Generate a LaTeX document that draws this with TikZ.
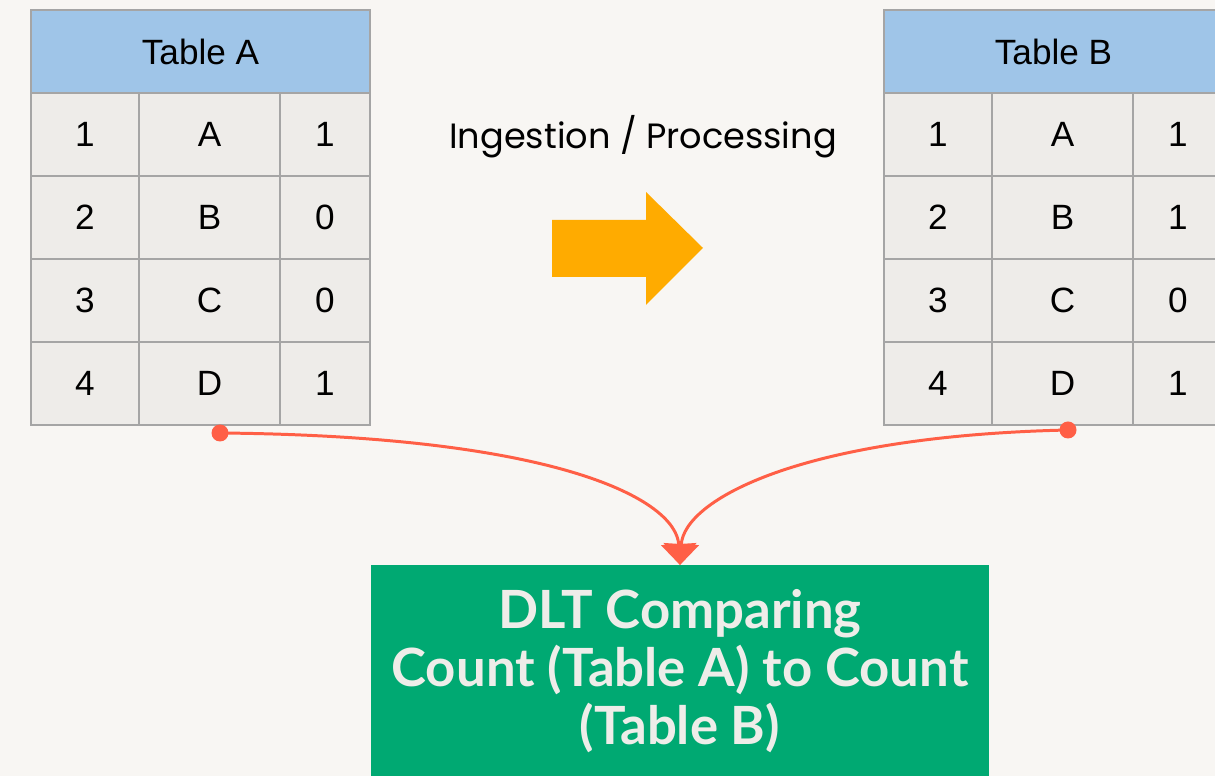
\documentclass[tikz,border=0pt]{standalone}
\usepackage{fontspec}
\setmainfont{Liberation Sans}
\newfontfamily\dmfont{Poppins}
\newfontfamily\boxfont{Lato}
\usetikzlibrary{arrows.meta,positioning}

\definecolor{bgpaper}{HTML}{F8F6F3}
\definecolor{headblue}{HTML}{9FC5E8}
\definecolor{cellgray}{HTML}{EEECE9}
\definecolor{gridgray}{HTML}{A5A5A5}
\definecolor{linkred}{HTML}{FF5F46}
\definecolor{flowamber}{HTML}{FFAB00}
\definecolor{dltgreen}{HTML}{00A972}
\definecolor{offwhite}{HTML}{EEEDE9}

\tikzset{
  cell/.style={draw=gridgray, line width=1.2pt, fill=cellgray, inner sep=0pt,
    outer sep=0pt, minimum height=1.66cm, anchor=north west,
    font=\fontsize{20}{24}\selectfont},
  headcell/.style={cell, fill=headblue, minimum width=6.78cm},
  link/.style={linkred, line width=1.7pt, -{Triangle[width=0.7cm,length=0.42cm]}},
}

\begin{document}
\begin{tikzpicture}[x=0.02cm,y=-0.02cm]

  % Achtergrond
  \fill[bgpaper] (0,0) rectangle (1215,776);
  \clip (0,0) rectangle (1215,776);

  % Tabel A
  \node[headcell] (headA) at (31,10) {Table A};
  \foreach \k/\c/\v [count=\i from 0] in {1/A/1, 2/B/0, 3/C/0, 4/D/1} {
    \node[cell, minimum width=2.16cm] (a-\k-1) at (31,93+83*\i) {\k};
    \node[cell, minimum width=2.82cm] (a-\k-2) at (139,93+83*\i) {\c};
    \node[cell, minimum width=1.8cm]  (a-\k-3) at (280,93+83*\i) {\v};
  }

  % Tabel B
  \node[headcell] (headB) at (884,10) {Table B};
  \foreach \k/\c/\v [count=\i from 0] in {1/A/1, 2/B/1, 3/C/0, 4/D/1} {
    \node[cell, minimum width=2.16cm] (b-\k-1) at (884,93+83*\i) {\k};
    \node[cell, minimum width=2.82cm] (b-\k-2) at (992,93+83*\i) {\c};
    \node[cell, minimum width=1.8cm]  (b-\k-3) at (1133,93+83*\i) {\v};
  }

  % Verwerking
  \node[font=\dmfont\fontsize{20}{24}\selectfont] (ingest) at (643,137)
    {Ingestion / Processing};
  \fill[flowamber] (552,220) -- (646,220) -- (646,192) -- (703,248)
    -- (646,305) -- (646,277) -- (552,277) -- cycle;

  % Vergelijking
  \node[fill=dltgreen, text=offwhite, minimum width=12.36cm, minimum height=4.22cm,
    anchor=north, align=center, inner sep=0pt,
    font=\boxfont\bfseries\fontsize{30}{33}\selectfont] (dlt) at (680,565)
    {DLT Comparing\\ Count (Table A) to Count\\ (Table B)};

  % Verbindingen
  \coordinate (srcA) at (220,433);
  \coordinate (srcB) at (1068,430);
  \draw[link] (srcA) .. controls (560,436) and (676,500) .. (dlt.north);
  \draw[link] (srcB) .. controls (800,436) and (684,500) .. (dlt.north);
  \fill[linkred] (srcA) circle (8.5);
  \fill[linkred] (srcB) circle (8.5);

\end{tikzpicture}
\end{document}
